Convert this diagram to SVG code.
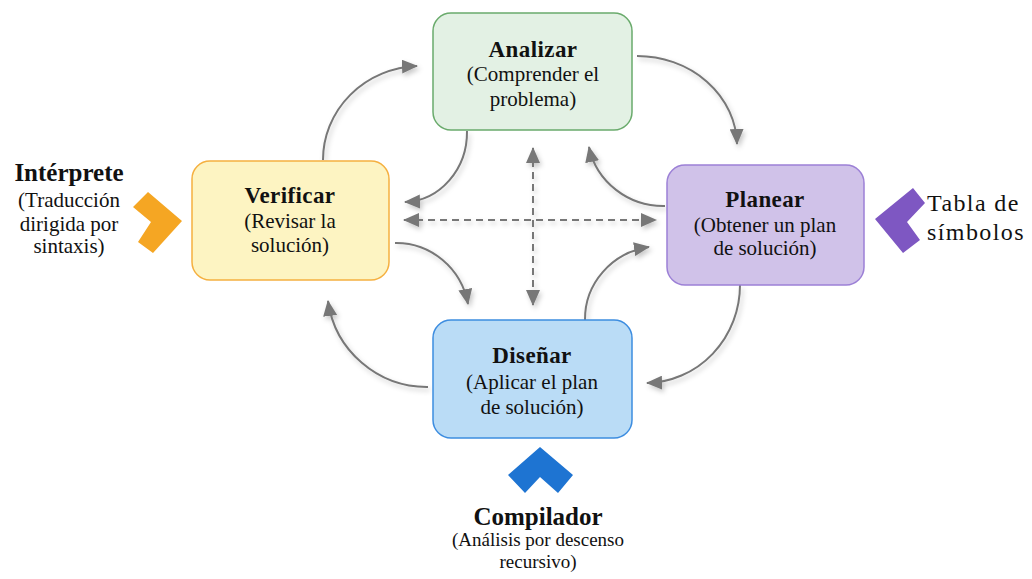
<svg xmlns="http://www.w3.org/2000/svg" width="1032" height="579" viewBox="0 0 1032 579">
<style>
.t{font-family:"Liberation Serif","Times New Roman",serif;fill:#111;text-anchor:middle}
.ttl{font-size:23px;font-weight:bold;letter-spacing:0.4px}
.sub{font-size:21px}
.big{font-size:25px;font-weight:bold}
.side{font-size:24px;text-anchor:start;letter-spacing:1.4px}
.c{fill:none;stroke:#777;stroke-width:2}
.d{fill:none;stroke:#777;stroke-width:2;stroke-dasharray:7,5}
</style>
<defs>
<marker id="a" viewBox="0 0 16 14" refX="15" refY="7" markerWidth="16" markerHeight="14" markerUnits="userSpaceOnUse" orient="auto-start-reverse">
<path d="M0,0 L16,7 L0,14 Z" fill="#777"/>
</marker>
<filter id="sh" x="-20%" y="-20%" width="140%" height="140%">
<feDropShadow dx="2" dy="3" stdDeviation="2.5" flood-color="#000" flood-opacity="0.22"/>
</filter>
</defs>
<g id="connectors" filter="url(#sh)">
<path class="c" d="M323,160 A98,94 0 0 1 417,66" marker-end="url(#a)"/>
<path class="c" d="M637,56 A100,90 0 0 1 737,144" marker-end="url(#a)"/>
<path class="c" d="M467,131 A64,70 0 0 1 405,202" marker-end="url(#a)"/>
<path class="c" d="M665,206 A76,74 0 0 1 589,147" marker-end="url(#a)"/>
<path class="c" d="M395,243 A73,75 0 0 1 468,304" marker-end="url(#a)"/>
<path class="c" d="M428,387 A100,100 0 0 1 328,301" marker-end="url(#a)"/>
<path class="c" d="M585,320 A75,73 0 0 1 649,247" marker-end="url(#a)"/>
<path class="c" d="M740,285 A95,98 0 0 1 647,383" marker-end="url(#a)"/>
<path class="d" d="M533,148 L533,305" marker-start="url(#a)" marker-end="url(#a)"/>
<path class="d" d="M404,220 L656,220" marker-start="url(#a)" marker-end="url(#a)"/>
</g>
<g id="analizar">
<rect x="433" y="13" width="199" height="117" rx="18" fill="#e3f1e4" stroke="#6aab6c" stroke-width="1.5"/>
<text class="t ttl" x="533" y="57">Analizar</text>
<text class="t sub" x="533" y="81">(Comprender el</text>
<text class="t sub" x="533" y="106">problema)</text>
</g>
<g id="verificar">
<rect x="192" y="161" width="197" height="119" rx="18" fill="#fdf4c2" stroke="#f5b040" stroke-width="1.5"/>
<text class="t ttl" x="290" y="203">Verificar</text>
<text class="t sub" x="290" y="228">(Revisar la</text>
<text class="t sub" x="290" y="252">solución)</text>
</g>
<g id="planear">
<rect x="667" y="165" width="197" height="120" rx="18" fill="#d0c2e9" stroke="#9c80d6" stroke-width="1.5"/>
<text class="t ttl" x="765" y="207">Planear</text>
<text class="t sub" x="765" y="232">(Obtener un plan</text>
<text class="t sub" x="765" y="255">de solución)</text>
</g>
<g id="disenar">
<rect x="433" y="320" width="199" height="118" rx="18" fill="#badcf6" stroke="#3d8de0" stroke-width="1.5"/>
<text class="t ttl" x="532" y="363">Diseñar</text>
<text class="t sub" x="532" y="389">(Aplicar el plan</text>
<text class="t sub" x="532" y="414">de solución)</text>
</g>
<g id="interprete">
<polygon points="148,192 182,221 153,253 138,242 151,222 133,207" fill="#f5a623"/>
<text class="t big" x="69" y="181">Intérprete</text>
<text class="t sub" x="69" y="207">(Traducción</text>
<text class="t sub" x="69" y="231">dirigida por</text>
<text class="t sub" x="69" y="253">sintaxis)</text>
</g>
<g id="tabla">
<polygon points="913,188 925,203 907,222 920,240 903,253 875,219" fill="#7e57c2"/>
<text class="t side" x="927" y="211">Tabla de</text>
<text class="t side" x="927" y="240">símbolos</text>
</g>
<g id="compilador">
<polygon points="540,447 573,475 558,493 540,477 525,493 508,475" fill="#1e74d2"/>
<text class="t big" x="538" y="525">Compilador</text>
<text class="t" x="538" y="546" style="font-size:19px">(Análisis por descenso</text>
<text class="t" x="538" y="568" style="font-size:19px">recursivo)</text>
</g>
</svg>
